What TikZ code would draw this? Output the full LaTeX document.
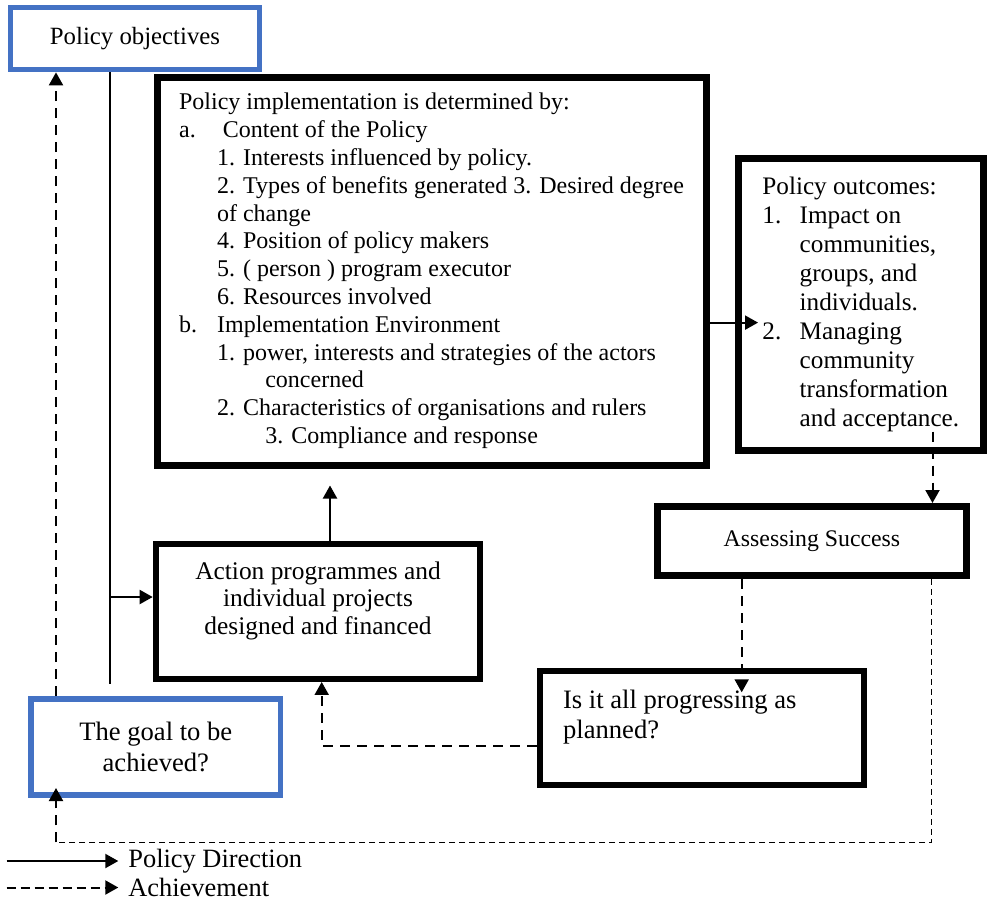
\documentclass[tikz,border=0pt]{standalone}
\usepackage{fontspec}
\setmainfont{Liberation Serif}
\usetikzlibrary{arrows.meta, positioning}
\definecolor{objblue}{HTML}{4472C4}
\newcommand{\setfs}[2]{\fontsize{#1}{#2}\selectfont}

\begin{document}
\begin{tikzpicture}[
    x=0.5pt, y=-0.5pt,
    >={Triangle[length=6.5pt, width=7pt]},
    box/.style    ={draw, line width=3.5pt, align=center, inner sep=0pt},
    goalbox/.style={draw=objblue, line width=2.85pt, align=center},
    flow/.style   ={->, line width=1pt},
    dirline/.style={line width=0.7pt},
    achieve/.style={->, line width=1pt, dash pattern=on 5pt off 3.5pt},
    feedback/.style={line width=0.6pt, dash pattern=on 3pt off 2pt},
    legendtext/.style={anchor=west, inner xsep=4.85pt, inner ysep=0pt, font=\setfs{13.2}{15}},
]
\useasboundingbox (0,0) rectangle (987,902);
\node[goalbox, minimum width=124.5pt, minimum height=31pt, font=\setfs{12.4}{14}]
      (objectives) at (135,38.5) {Policy objectives};
\node[box, minimum width=274.5pt, minimum height=194pt, align=left, font=\setfs{12}{13.9}]
      (main) at (431.5,271) {Policy implementation is determined by:\\
        \makebox[21.9pt][l]{a.}Content of the Policy\\
        \hspace*{19pt}1. Interests influenced by policy.\\
        \hspace*{19pt}2. Types of benefits generated 3. Desired degree\\
        \hspace*{19pt}of change\\
        \hspace*{19pt}4. Position of policy makers\\
        \hspace*{19pt}5. ( person ) program executor\\
        \hspace*{19pt}6. Resources involved\\
        \makebox[19pt][l]{b.}Implementation Environment\\
        \hspace*{19pt}1. power, interests and strategies of the actors\\
        \hspace*{43.1pt}concerned\\
        \hspace*{19pt}2. Characteristics of organisations and rulers\\
        \hspace*{43.1pt}3. Compliance and response};
\node[box, minimum width=122.25pt, minimum height=146pt, align=left, font=\setfs{12.6}{14.5}]
      (outcomes) at (860.8,304.5) {Policy outcomes:\\
        \makebox[18.65pt][l]{1.}Impact on\\
        \hspace*{18.65pt}communities,\\
        \hspace*{18.65pt}groups, and\\
        \hspace*{18.65pt}individuals.\\
        \makebox[18.65pt][l]{2.}Managing\\
        \hspace*{18.65pt}community\\
        \hspace*{18.65pt}transformation\\
        \hspace*{18.65pt}and acceptance.};
\node[box, minimum width=154.5pt, minimum height=34.5pt, font=\setfs{11.9}{14}]
      (assess) at (812,541) {Assessing Success};
\node[box, line width=3pt, minimum width=162.3pt, minimum height=67.65pt]
      (action) at (318,611.3) {};
\node[align=center, font=\setfs{12.7}{13.75}] (actiontxt) at (318,600.8)
      {Action programmes and\\individual projects\\designed and financed};
\node[box, line width=3pt, minimum width=162.3pt, minimum height=56.7pt]
      (progress) at (702,728) {};
\node[anchor=north west, inner sep=0pt, align=left, font=\setfs{13.3}{15}]
      (progresstxt) at (562.7,689.5) {Is it all progressing as\\planned?};
\node[goalbox, minimum width=124.65pt, minimum height=48.15pt, font=\setfs{13.3}{15.8}]
      (goal) at (155.8,747) {The goal to be\\achieved?};
% policy direction
\coordinate (dirbot) at (110,684);
\coordinate (dirsplit) at (110,597);
\draw[dirline] (objectives.south -| dirbot) -- (dirbot);
\draw[flow] (dirsplit) -- (dirsplit -| action.west);
\draw[flow, shorten >=8.5pt] ([xshift=6pt]action.north) -- ([xshift=6pt]action.north |- main.south);
\draw[flow, shorten >=-11.5pt] ([yshift=-25.8pt]main.east) -- ([yshift=-25.8pt]main.east -| outcomes.west);
% achievement
\coordinate (outdash) at (932.5,431.7);
\coordinate (fbcorner) at (931.7,842.3);
\coordinate (fbleft) at (56,842.3);
\draw[achieve] (outdash) -- (outdash |- assess.north);
\draw[achieve, shorten >=-12pt] ([xshift=-35.15pt]assess.south) -- ([xshift=-35.15pt]assess.south |- progress.north);
\draw[achieve] ([yshift=-8.85pt]progress.west) -| ([xshift=1.85pt]action.south);
\draw[feedback] (fbcorner |- assess.south) -- (fbcorner) -- (fbleft);
\draw[achieve, shorten >=-5pt] (fbleft) -- (fbleft |- goal.south);
\draw[achieve] ([xshift=-49.9pt]goal.north) -- ([xshift=-49.9pt]goal.north |- objectives.south);
% legend
\node[legendtext] (lgdirection) at (118.3,861) {Policy Direction};
\node[legendtext] (lgachieve) at (118.3,887.5) {Achievement};
\coordinate (lgdirstart) at (6.7,861);
\coordinate (lgachstart) at (6.7,887.5);
\draw[flow] (lgdirstart) -- (lgdirection.west);
\draw[achieve, dash pattern=on 4.5pt off 2.5pt] (lgachstart) -- (lgachieve.west);
\end{tikzpicture}
\end{document}
